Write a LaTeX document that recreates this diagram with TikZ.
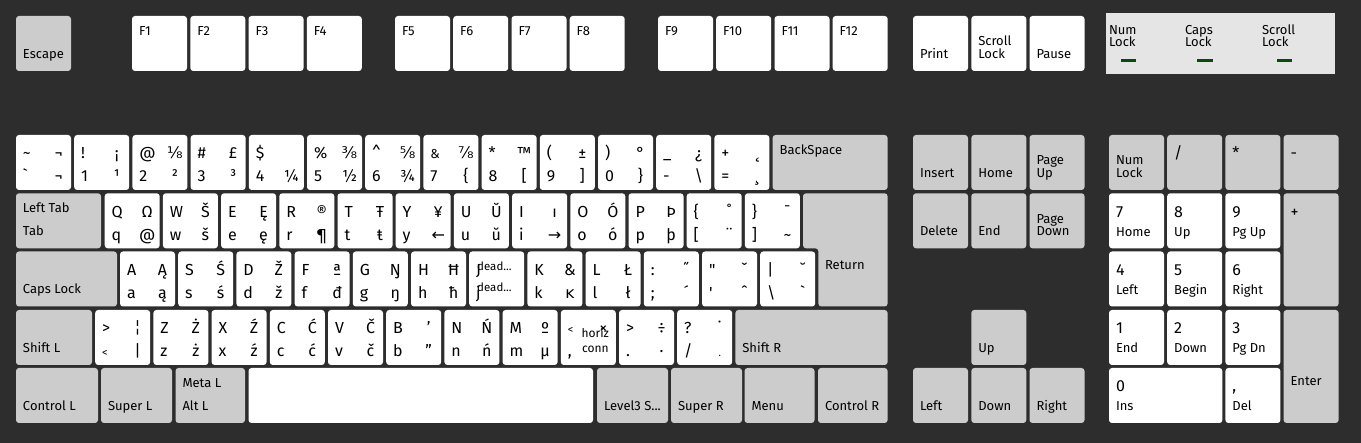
\documentclass[tikz,border=0pt]{standalone}
\usepackage{fontspec}
\setmainfont{Fira Sans}
\newfontfamily\djv{DejaVu Sans}
\definecolor{bg}{HTML}{2D2D2D}
\definecolor{kgray}{HTML}{CCCCCC}
\definecolor{ledbg}{HTML}{E5E5E5}
\definecolor{ledgreen}{HTML}{0A4A0A}
\tikzset{
 kbkey/.style={rectangle, rounded corners=3pt, inner sep=0pt, outer sep=0pt, anchor=north west},
 wk/.style={kbkey, fill=white},
 gk/.style={kbkey, fill=kgray},
 ch/.style={font=\fontsize{16}{16}\selectfont, inner sep=0pt, outer sep=0pt},
 lab/.style={font=\fontsize{13}{13}\selectfont, inner sep=0pt, outer sep=0pt, anchor=base west},
 smalllab/.style={font=\fontsize{11.5}{11.5}\selectfont, inner sep=0pt, outer sep=0pt},
 ledmark/.style={rectangle, fill=ledgreen, inner sep=0pt, outer sep=0pt, anchor=north west, minimum width=15pt, minimum height=3pt},
}
% character key: name, x, y, TL, BL, TR, BR
\newcommand\kbK[7]{%
 \node[wk, minimum width=55pt, minimum height=55pt] (#1) at (#2,#3) {};
 \node[ch, anchor=base west] (#1a) at ([shift={(7,24)}]#1.north west) {#4};
 \node[ch, anchor=base west] (#1b) at ([shift={(7,47)}]#1.north west) {#5};
 \node[ch, anchor=base] (#1c) at ([shift={(42.5,24)}]#1.north west) {#6};
 \node[ch, anchor=base] (#1d) at ([shift={(42.5,47)}]#1.north west) {#7};
}
% box: name, style, x, y, w, h
\newcommand\kbBox[6]{\node[#2, minimum width=#5pt, minimum height=#6pt] (#1) at (#3,#4) {};}
\newcommand\kbBL[2]{\node[lab] (#1L) at ([shift={(7,-12.5)}]#1.south west) {#2};}
\newcommand\kbBLL[3]{%
 \node[lab] (#1L) at ([shift={(7,-25.2)}]#1.south west) {#2};
 \node[lab] (#1M) at ([shift={(7,-12.5)}]#1.south west) {#3};}
\newcommand\kbLev[3]{%
 \node[lab] (#1L) at ([shift={(7,-35.8)}]#1.south west) {#2};
 \node[lab] (#1M) at ([shift={(7,-12.5)}]#1.south west) {#3};}
\newcommand\kbTL[2]{\node[lab] (#1L) at ([shift={(7,19.5)}]#1.north west) {#2};}
\newcommand\kbNum[3]{%
 \node[ch, anchor=base west] (#1L) at ([shift={(7,24)}]#1.north west) {#2};
 \node[lab] (#1M) at ([shift={(7,43)}]#1.north west) {#3};}
\begin{document}
\begin{tikzpicture}[x=1pt,y=-1pt]
\useasboundingbox (0,0) rectangle (1361,443);
\fill[bg] (0,0) rectangle (1361,443);
% ---------- function row ----------
\kbBox{esc}{gk}{16}{16}{55}{55}\kbBL{esc}{Escape}
\kbBox{f1}{wk}{132}{16}{55}{55}\kbTL{f1}{F1}
\kbBox{f2}{wk}{190.3}{16}{55}{55}\kbTL{f2}{F2}
\kbBox{f3}{wk}{248.5}{16}{55}{55}\kbTL{f3}{F3}
\kbBox{f4}{wk}{306.8}{16}{55}{55}\kbTL{f4}{F4}
\kbBox{f5}{wk}{395}{16}{55}{55}\kbTL{f5}{F5}
\kbBox{f6}{wk}{453.2}{16}{55}{55}\kbTL{f6}{F6}
\kbBox{f7}{wk}{511.5}{16}{55}{55}\kbTL{f7}{F7}
\kbBox{f8}{wk}{569.7}{16}{55}{55}\kbTL{f8}{F8}
\kbBox{f9}{wk}{658}{16}{55}{55}\kbTL{f9}{F9}
\kbBox{f10}{wk}{716.2}{16}{55}{55}\kbTL{f10}{F10}
\kbBox{f11}{wk}{774.5}{16}{55}{55}\kbTL{f11}{F11}
\kbBox{f12}{wk}{832.7}{16}{55}{55}\kbTL{f12}{F12}
\kbBox{prt}{wk}{913}{16}{55}{55}\kbBL{prt}{Print}
\kbBox{scl}{wk}{971.3}{16}{55}{55}\kbBLL{scl}{Scroll}{Lock}
\kbBox{pau}{wk}{1029.5}{16}{55}{55}\kbBL{pau}{Pause}
% LED panel
\node[fill=ledbg, rectangle, inner sep=0pt, outer sep=0pt, anchor=north west, minimum width=229pt, minimum height=61pt] (leds) at (1106,13) {};
\node[lab] (ledNa) at (1109,34.3) {Num};
\node[lab] (ledNb) at (1109,47) {Lock};
\node[lab] (ledCa) at (1185,34.3) {Caps};
\node[lab] (ledCb) at (1185,47) {Lock};
\node[lab] (ledSa) at (1262,34.3) {Scroll};
\node[lab] (ledSb) at (1262,47) {Lock};
\node[ledmark] (ledN) at (1121,59) {};
\node[ledmark, minimum width=16pt] (ledC) at (1197,59) {};
\node[ledmark] (ledS) at (1277,59) {};
% ---------- row 1 ----------
\kbK{k0}{16}{135}{\textasciitilde}{\textasciigrave}{¬}{¬}
\kbK{k1}{74.2}{135}{!}{1}{¡}{¹}
\kbK{k2}{132.4}{135}{@}{2}{{\djv ⅛}}{²}
\kbK{k3}{190.6}{135}{\#}{3}{£}{³}
\kbK{k4}{248.8}{135}{\$}{4}{}{¼}
\kbK{k5}{307}{135}{\%}{5}{{\djv ⅜}}{½}
\kbK{k6}{365.2}{135}{\textasciicircum}{6}{{\djv ⅝}}{¾}
\kbK{k7}{423.4}{135}{{\fontsize{13}{13}\selectfont\&}}{7}{{\djv ⅞}}{\{}
\kbK{k8}{481.6}{135}{*}{8}{™}{[}
\kbK{k9}{539.8}{135}{(}{9}{±}{]}
\kbK{k10}{598}{135}{)}{0}{°}{\}}
\kbK{k11}{656.2}{135}{\_}{-}{¿}{\textbackslash}
\kbK{k12}{714.4}{135}{+}{=}{˛}{¸}
\kbBox{bksp}{gk}{772.6}{135}{115}{55}\kbTL{bksp}{BackSpace}
% ---------- row 2 ----------
\kbBox{tab}{gk}{16}{193.3}{85}{55}\kbLev{tab}{Left Tab}{Tab}
\kbK{q}{104.7}{193.3}{Q}{q}{Ω}{@}
\kbK{w}{162.9}{193.3}{W}{w}{Š}{š}
\kbK{e}{221.1}{193.3}{E}{e}{Ę}{ę}
\kbK{r}{279.3}{193.3}{R}{r}{®}{¶}
\kbK{t}{337.5}{193.3}{T}{t}{Ŧ}{ŧ}
\kbK{y}{395.7}{193.3}{Y}{y}{¥}{{\djv ←}}
\kbK{u}{453.9}{193.3}{U}{u}{Ŭ}{ŭ}
\kbK{i}{512.1}{193.3}{I}{i}{ı}{{\djv →}}
\kbK{o}{570.3}{193.3}{O}{o}{Ó}{ó}
\kbK{p}{628.5}{193.3}{P}{p}{Þ}{þ}
\kbK{lbr}{686.7}{193.3}{\{}{[}{˚}{¨}
\kbK{rbr}{744.9}{193.3}{\}}{]}{¯}{\textasciitilde}
% Return (L-shaped)
\fill[kgray, rounded corners=3pt] (803,193.3) -- (887.6,193.3) -- (887.6,306.5) -- (818.4,306.5) -- (818.4,248.3) -- (803,248.3) -- cycle;
\node[lab] (retL) at (825,269.8) {Return};
% ---------- row 3 ----------
\kbBox{caps}{gk}{16}{251.5}{101}{55}\kbBL{caps}{Caps Lock}
\kbK{a}{120}{251.5}{A}{a}{Ą}{ą}
\kbK{s}{178.2}{251.5}{S}{s}{Ś}{ś}
\kbK{d}{236.4}{251.5}{D}{d}{Ž}{ž}
\kbK{f}{294.6}{251.5}{F}{f}{ª}{đ}
\kbK{g}{352.8}{251.5}{G}{g}{Ŋ}{ŋ}
\kbK{h}{411}{251.5}{H}{h}{Ħ}{ħ}
\kbK{j}{469.2}{251.5}{J}{j}{}{}
\node[smalllab, anchor=base west] (jdA) at ([shift={(8,19)}]j.north west) {dead...};
\node[smalllab, anchor=base west] (jdB) at ([shift={(8,40.5)}]j.north west) {dead...};
\kbK{k}{527.4}{251.5}{K}{k}{\&}{{\djv ĸ}}
\kbK{l}{585.6}{251.5}{L}{l}{Ł}{ł}
\kbK{sc}{643.8}{251.5}{:}{;}{˝}{´}
\kbK{ap}{702}{251.5}{\textquotedbl}{\textquotesingle}{ˇ}{ˆ}
\kbK{bsl}{760.2}{251.5}{|}{\textbackslash}{˘}{\textasciigrave}
% ---------- row 4 ----------
\kbBox{lsh}{gk}{16}{310}{76}{55}\kbBL{lsh}{Shift L}
\kbK{lsgt}{95.2}{310}{>}{{\fontsize{11}{11}\selectfont <}}{¦}{|}
\kbK{z}{153.4}{310}{Z}{z}{Ż}{ż}
\kbK{x}{211.6}{310}{X}{x}{Ź}{ź}
\kbK{c}{269.8}{310}{C}{c}{Ć}{ć}
\kbK{v}{328}{310}{V}{v}{Č}{č}
\kbK{b}{386.2}{310}{B}{b}{’}{”}
\kbK{n}{444.4}{310}{N}{n}{Ń}{ń}
\kbK{m}{502.6}{310}{M}{m}{º}{µ}
\kbK{cm}{560.8}{310}{{\fontsize{11}{11}\selectfont <}}{,}{×}{}
\node[font=\fontsize{12}{12}\selectfont, inner sep=0pt, anchor=base] (cmh) at ([shift={(34.5,27.5)}]cm.north west) {horiz};
\node[font=\fontsize{12}{12}\selectfont, inner sep=0pt, anchor=base] (cmc) at ([shift={(34.5,43)}]cm.north west) {conn};
\kbK{pd}{619}{310}{>}{.}{÷}{·}
\kbK{sl}{677.2}{310}{?}{/}{˙}{{\fontsize{10}{10}\selectfont .}}
\kbBox{rsh}{gk}{735.4}{310}{152.2}{55}\kbBL{rsh}{Shift R}
% ---------- row 5 ----------
\kbBox{lctl}{gk}{16}{368}{82}{55}\kbBL{lctl}{Control L}
\kbBox{lsup}{gk}{101}{368}{71}{55}\kbBL{lsup}{Super L}
\kbBox{lalt}{gk}{175.5}{368}{69.5}{55}\kbLev{lalt}{Meta L}{Alt L}
\kbBox{spc}{wk}{248.5}{368}{344.5}{55}
\kbBox{lvl}{gk}{597}{368}{71}{55}\kbBL{lvl}{Level3 S...}
\kbBox{rsup}{gk}{671}{368}{71}{55}\kbBL{rsup}{Super R}
\kbBox{menu}{gk}{744.5}{368}{70}{55}\kbBL{menu}{Menu}
\kbBox{rctl}{gk}{818}{368}{69.6}{55}\kbBL{rctl}{Control R}
% ---------- navigation ----------
\kbBox{ins}{gk}{913}{135}{55}{55}\kbBL{ins}{Insert}
\kbBox{home}{gk}{971.3}{135}{55}{55}\kbBL{home}{Home}
\kbBox{pgup}{gk}{1029.5}{135}{55}{55}\kbBLL{pgup}{Page}{Up}
\kbBox{del}{gk}{913}{193.3}{55}{55}\kbBL{del}{Delete}
\kbBox{end}{gk}{971.3}{193.3}{55}{55}\kbBL{end}{End}
\kbBox{pgdn}{gk}{1029.5}{193.3}{55}{55}\kbBLL{pgdn}{Page}{Down}
\kbBox{up}{gk}{971.3}{310}{55}{55}\kbBL{up}{Up}
\kbBox{left}{gk}{913}{368}{55}{55}\kbBL{left}{Left}
\kbBox{down}{gk}{971.3}{368}{55}{55}\kbBL{down}{Down}
\kbBox{right}{gk}{1029.5}{368}{55}{55}\kbBL{right}{Right}
% ---------- numpad ----------
\kbBox{nlk}{gk}{1109}{135}{55}{55}\kbBLL{nlk}{Num}{Lock}
\kbBox{kpdiv}{gk}{1167.2}{135}{55}{55}
\node[ch, anchor=base west] (kpdivL) at ([shift={(7,24)}]kpdiv.north west) {/};
\kbBox{kpmul}{gk}{1225.4}{135}{55}{55}
\node[ch, anchor=base west] (kpmulL) at ([shift={(7,24)}]kpmul.north west) {*};
\kbBox{kpsub}{gk}{1283.6}{135}{55}{55}
\node[ch, anchor=base west] (kpsubL) at ([shift={(7,24)}]kpsub.north west) {-};
\kbBox{kp7}{wk}{1109}{193.3}{55}{55}\kbNum{kp7}{7}{Home}
\kbBox{kp8}{wk}{1167.2}{193.3}{55}{55}\kbNum{kp8}{8}{Up}
\kbBox{kp9}{wk}{1225.4}{193.3}{55}{55}\kbNum{kp9}{9}{Pg Up}
\kbBox{kpadd}{gk}{1283.6}{193.3}{55}{113.2}
\node[ch, anchor=base west] (kpaddL) at ([shift={(7,24)}]kpadd.north west) {+};
\kbBox{kp4}{wk}{1109}{251.5}{55}{55}\kbNum{kp4}{4}{Left}
\kbBox{kp5}{wk}{1167.2}{251.5}{55}{55}\kbNum{kp5}{5}{Begin}
\kbBox{kp6}{wk}{1225.4}{251.5}{55}{55}\kbNum{kp6}{6}{Right}
\kbBox{kp1}{wk}{1109}{310}{55}{55}\kbNum{kp1}{1}{End}
\kbBox{kp2}{wk}{1167.2}{310}{55}{55}\kbNum{kp2}{2}{Down}
\kbBox{kp3}{wk}{1225.4}{310}{55}{55}\kbNum{kp3}{3}{Pg Dn}
\kbBox{kpent}{gk}{1283.6}{310}{55}{113}
\node[lab] (kpentL) at ([shift={(7,75.3)}]kpent.north west) {Enter};
\kbBox{kp0}{wk}{1109}{368}{113.4}{55}\kbNum{kp0}{0}{Ins}
\kbBox{kpdec}{wk}{1225.4}{368}{55}{55}\kbNum{kpdec}{,}{Del}
\end{tikzpicture}
\end{document}
